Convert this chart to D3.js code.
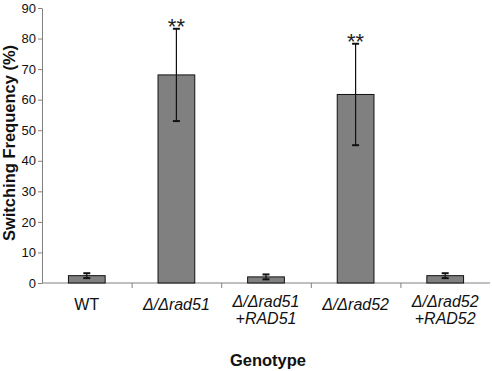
<!DOCTYPE html>
<html>
<head>
<meta charset="utf-8">
<script src="https://cdn.jsdelivr.net/npm/d3@7"></script>
<style>
  body { margin: 0; background: #fff; }
  svg { display: block; font-family: "Liberation Sans", Arial, sans-serif; }
</style>
</head>
<body>
<div id="chart"></div>
<script>
// data
var genotypes = ["WT", "rad51", "rad51+RAD51", "rad52", "rad52+RAD52"];
var labelLines = [["WT"], ["\u0394/\u0394rad51"], ["\u0394/\u0394rad51", "+RAD51"], ["\u0394/\u0394rad52"], ["\u0394/\u0394rad52", "+RAD52"]];
var freq = [2.4, 68.1, 2.0, 61.7, 2.4];
var err = [0.8, 15.1, 0.8, 16.6, 0.8];
var stars = ["", "**", "", "**", ""];
var yTicks = [0, 10, 20, 30, 40, 50, 60, 70, 80, 90];

var W = 492, H = 371;
var margin = { top: 8, right: 2, bottom: 88, left: 42 };

var svg = d3.select("#chart").append("svg")
    .attr("width", W)
    .attr("height", H);

var x = d3.scaleBand()
    .domain(genotypes)
    .range([margin.left, W - margin.right])
    .padding(0);

// y(0) = 283, y(90) = 8
var y = d3.scaleLinear()
    .domain([0, 90])
    .range([H - margin.bottom, margin.top]);

var barW = x.bandwidth() * 0.41;

// y axis
var yAxis = svg.append("g")
    .attr("transform", "translate(" + margin.left + ",0)")
    .call(d3.axisLeft(y).tickValues(yTicks).tickSize(4).tickSizeOuter(0));
yAxis.select(".domain").attr("stroke", "#808080");
yAxis.selectAll(".tick line").attr("stroke", "#808080");
yAxis.selectAll(".tick text")
    .attr("font-size", 13)
    .attr("fill", "#111")
    .attr("x", -6)
    .style("font-family", "'Liberation Sans', Arial, sans-serif");

// x axis line + category ticks at band boundaries
svg.append("line")
    .attr("x1", margin.left).attr("x2", W - margin.right)
    .attr("y1", y(0)).attr("y2", y(0))
    .attr("stroke", "#808080");

svg.append("g").selectAll("line")
    .data(genotypes.slice(1))
    .enter().append("line")
    .attr("x1", function (d) { return x(d) + 0.5; })
    .attr("x2", function (d) { return x(d) + 0.5; })
    .attr("y1", y(0))
    .attr("y2", y(0) + 5)
    .attr("stroke", "#808080");

// bars
svg.append("g").selectAll("rect")
    .data(genotypes)
    .enter().append("rect")
    .attr("x", function (d) { return x(d) + x.bandwidth() / 2 - barW / 2; })
    .attr("y", function (d, i) { return y(freq[i]); })
    .attr("width", barW)
    .attr("height", function (d, i) { return y(0) - y(freq[i]); })
    .attr("fill", "#808080")
    .attr("stroke", "#111")
    .attr("stroke-width", 1);

// error bars
var eb = svg.append("g").selectAll("g")
    .data(genotypes)
    .enter().append("g")
    .attr("stroke", "#111")
    .attr("stroke-width", 1.2);

eb.append("line")
    .attr("x1", function (d) { return x(d) + x.bandwidth() / 2; })
    .attr("x2", function (d) { return x(d) + x.bandwidth() / 2; })
    .attr("y1", function (d, i) { return y(freq[i] - err[i]); })
    .attr("y2", function (d, i) { return y(freq[i] + err[i]); });

eb.append("line")
    .attr("x1", function (d) { return x(d) + x.bandwidth() / 2 - 3.5; })
    .attr("x2", function (d) { return x(d) + x.bandwidth() / 2 + 3.5; })
    .attr("y1", function (d, i) { return y(freq[i] + err[i]); })
    .attr("y2", function (d, i) { return y(freq[i] + err[i]); })
    .attr("stroke-width", 2);

eb.append("line")
    .attr("x1", function (d) { return x(d) + x.bandwidth() / 2 - 3.5; })
    .attr("x2", function (d) { return x(d) + x.bandwidth() / 2 + 3.5; })
    .attr("y1", function (d, i) { return y(freq[i] - err[i]); })
    .attr("y2", function (d, i) { return y(freq[i] - err[i]); })
    .attr("stroke-width", 2);

// significance stars
svg.append("g").selectAll("text")
    .data(genotypes)
    .enter().append("text")
    .attr("x", function (d) { return x(d) + x.bandwidth() / 2; })
    .attr("y", function (d, i) { return y(freq[i] + err[i]) + 5; })
    .attr("text-anchor", "middle")
    .attr("font-size", 22)
    .attr("fill", "#222")
    .text(function (d, i) { return stars[i]; });

// category labels
var lab = svg.append("g").selectAll("text")
    .data(genotypes)
    .enter().append("text")
    .attr("text-anchor", "middle")
    .attr("font-size", 16)
    .attr("fill", "#111")
    .attr("font-style", function (d, i) { return i === 0 ? "normal" : "italic"; });

lab.each(function (d, i) {
    var lines = labelLines[i];
    var cx = x(d) + x.bandwidth() / 2;
    var t = d3.select(this);
    lines.forEach(function (s, j) {
        var yy = lines.length === 1 ? 310 : 306.5 + j * 17;
        t.append("tspan").attr("x", cx).attr("y", yy).text(s);
    });
});

// axis titles
svg.append("text")
    .attr("x", 268)
    .attr("y", 366)
    .attr("text-anchor", "middle")
    .attr("font-size", 16.5)
    .attr("font-weight", "bold")
    .attr("fill", "#111")
    .text("Genotype");

svg.append("text")
    .attr("transform", "translate(15," + 143 + ") rotate(-90)")
    .attr("text-anchor", "middle")
    .attr("font-size", 16.5)
    .attr("font-weight", "bold")
    .attr("fill", "#111")
    .text("Switching Frequency (%)");
</script>
</body>
</html>
